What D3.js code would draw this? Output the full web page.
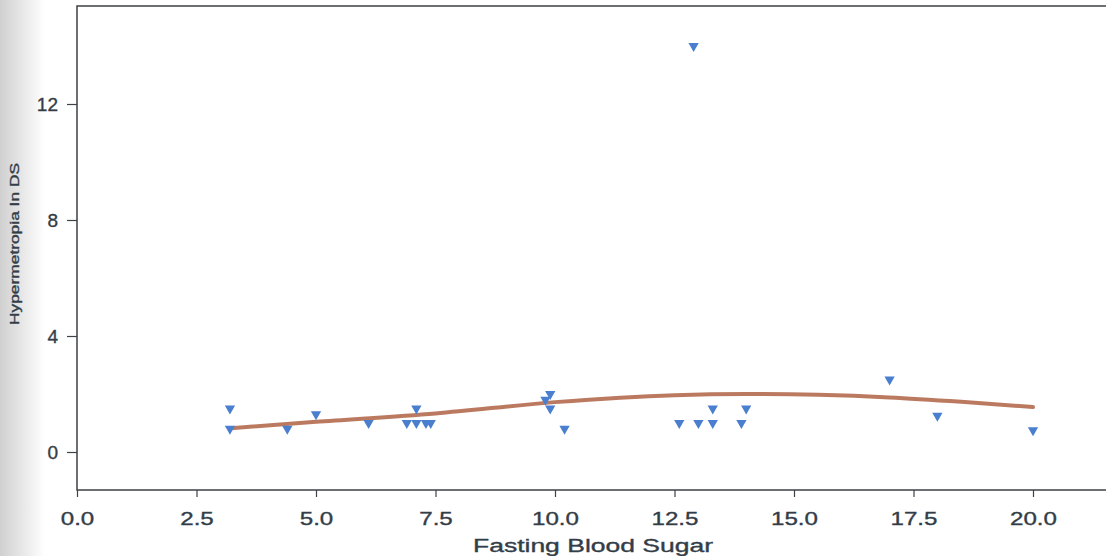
<!DOCTYPE html>
<html>
<head>
<meta charset="utf-8">
<script src="https://cdn.jsdelivr.net/npm/d3@7"></script>
<style>
  body { margin: 0; background: #fff; overflow: hidden; }
  text { font-family: "Liberation Sans", Arial, sans-serif; fill: #333d47; stroke: #333d47; stroke-width: 0.35px; }
</style>
</head>
<body>
<script>

// scatter values
var sugar = [3.2, 3.2, 4.4, 5.0, 6.1, 6.9, 7.1, 7.1, 7.3, 7.4, 9.8, 9.9, 9.9, 10.2, 12.6, 12.9, 13.0, 13.3, 13.3, 13.9, 14.0, 17.0, 18.0, 20.0]
var hyper = [1.5, 0.8, 0.8, 1.3, 1.0, 1.0, 1.0, 1.5, 1.0, 1.0, 1.8, 2.0, 1.5, 0.8, 1.0, 14.0, 1.0, 1.0, 1.5, 1.0, 1.5, 2.5, 1.25, 0.75]

// smoothed fit line
var fitX = [3.2, 5.0, 7.5, 10.0, 12.5, 14.0, 15.5, 17.0, 18.5, 20.0]
var fitY = [0.82, 1.04, 1.33, 1.72, 1.96, 2.0, 1.97, 1.88, 1.73, 1.55]

var xTicks = [0, 2.5, 5, 7.5, 10, 12.5, 15, 17.5, 20]
var yTicks = [0, 4, 8, 12]

var width = 1106, height = 556

var svg = d3.select("body")
            .append("svg")
            .attr("width", width)
            .attr("height", height)

// scanned page shade on the left edge
var grad = svg.append("defs").append("linearGradient")
              .attr("id", "shade")
grad.append("stop").attr("offset", "0%").attr("stop-color", "#d0d0d0")
grad.append("stop").attr("offset", "100%").attr("stop-color", "#ffffff")
svg.append("rect")
   .attr("x", 0).attr("y", 0)
   .attr("width", 45).attr("height", height)
   .style("fill", "url(#shade)")

var x = d3.scaleLinear()
          .domain([0, 20])
          .range([77, 1033])

var y = d3.scaleLinear()
          .domain([0, 12])
          .range([452, 104])

var frameTop = 6, frameBottom = 490, frameLeft = 77

// frame (right side runs off the page)
svg.append("path")
   .attr("d", "M" + (width + 5) + "," + frameTop + "H" + frameLeft + "V" + frameBottom + "H" + (width + 5))
   .style("fill", "none")
   .style("stroke", "#3c4248")
   .style("stroke-width", 1.5)

// y axis ticks
var yAxis = d3.axisLeft(y)
              .tickValues(yTicks)
              .tickSize(10)
              .tickPadding(9)
              .tickFormat(d3.format("d"))
var gy = svg.append("g")
            .attr("transform", "translate(" + frameLeft + ",0)")
            .call(yAxis)
gy.select(".domain").remove()
gy.selectAll("line").style("stroke", "#3c4248").style("stroke-width", 1.2)
gy.selectAll("text").style("font-size", "19px").style("fill", "#333d47")

// x axis ticks, labels are a little wider in the scan
var xAxis = d3.axisBottom(x)
              .tickValues(xTicks)
              .tickSize(7)
              .tickPadding(15)
              .tickFormat(d3.format(".1f"))
var gx = svg.append("g")
            .attr("transform", "translate(0," + frameBottom + ")")
            .call(xAxis)
gx.select(".domain").remove()
gx.selectAll("line").style("stroke", "#3c4248").style("stroke-width", 1.2)
gx.selectAll("text")
  .style("font-size", "19px")
  .style("fill", "#333d47")
  .each(function() {
    var w = this.getComputedTextLength()
    d3.select(this).attr("textLength", w * 1.27).attr("lengthAdjust", "spacingAndGlyphs")
  })

// axis titles
svg.append("text")
   .attr("x", 593)
   .attr("y", 552)
   .attr("text-anchor", "middle")
   .attr("textLength", 240)
   .attr("lengthAdjust", "spacingAndGlyphs")
   .style("font-size", "18px")
   .text("Fasting Blood Sugar")

svg.append("text")
   .attr("transform", "translate(19,244) rotate(-90)")
   .attr("text-anchor", "middle")
   .attr("textLength", 162)
   .attr("lengthAdjust", "spacingAndGlyphs")
   .style("font-size", "13px")
   .text("Hypermetropia In DS")

// fit line
var line = d3.line()
             .x(function(d) { return x(d[0]) })
             .y(function(d) { return y(d[1]) })
             .curve(d3.curveMonotoneX)

svg.append("path")
   .datum(d3.zip(fitX, fitY))
   .attr("d", line)
   .style("fill", "none")
   .style("stroke", "#bb7a60")
   .style("stroke-width", 4)
   .style("stroke-linecap", "round")

// points as downward triangles
var tri = d3.symbol().type(d3.symbolTriangle).size(46)
svg.append("g")
   .selectAll("path")
   .data(d3.zip(sugar, hyper))
   .enter().append("path")
   .attr("d", tri)
   .attr("transform", function(d) {
     return "translate(" + x(d[0]) + "," + y(d[1]) + ") rotate(180)"
   })
   .style("fill", "#4a7fcf")

</script>
</body>
</html>
